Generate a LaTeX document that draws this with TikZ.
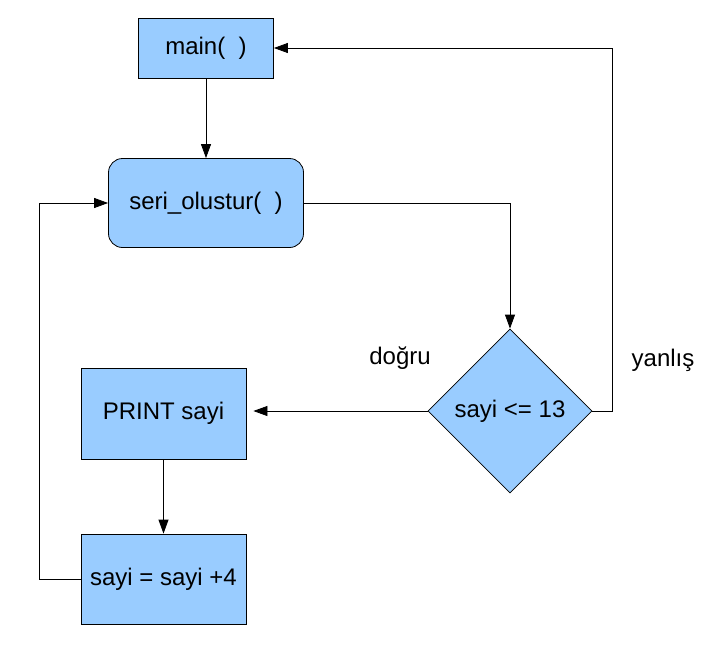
\documentclass[tikz,border=0pt]{standalone}
\usepackage{fontspec}
\setmainfont{Liberation Sans}
\usetikzlibrary{shapes.geometric,arrows.meta}
\definecolor{acikmavi}{HTML}{99CCFF}
\tikzset{
  kutu/.style={draw,fill=acikmavi,line width=0.8pt,inner sep=0pt},
  ok/.style={-{Triangle[length=14pt,width=10pt]},line width=0.8pt},
}
\begin{document}
\begin{tikzpicture}[x=1pt,y=-1pt,font=\fontsize{24}{28}\selectfont]
\useasboundingbox (0,0) rectangle (710,646);
% kutular
\node[kutu,minimum width=135pt,minimum height=60pt] (main) at (206,48) {main(\ \ )};
\node[kutu,rounded corners=14pt,minimum width=195pt,minimum height=89pt] (seri) at (206,203) {seri\_olustur(\ \ )};
\node[kutu,diamond,minimum width=164pt,minimum height=164pt] (kosul) at (510,411) {sayi <= 13};
\node[kutu,minimum width=165pt,minimum height=91pt] (yaz) at (163.5,413.5) {PRINT sayi};
\node[kutu,minimum width=165pt,minimum height=90pt] (artir) at (163.5,579) {sayi = sayi +4};
% etiketler
\node (dogru) at (400,358) {doğru};
\node (yanlis) at (663,360) {yanlış};
% baglantilar
\coordinate (sag) at (612,411);
\coordinate (sol) at (39,579);
\draw[ok] (main.south) -- (seri.north);
\draw[ok] (seri.east) -| (kosul.north);
\draw[ok] (kosul.east) -- (sag) |- (main.east);
\draw[ok,shorten >=7pt] (kosul.west) -- (kosul.west -| yaz.east);
\draw[ok] (yaz.south) -- (artir.north);
\draw[ok] (artir.west) -- (sol) |- (seri.west);
\end{tikzpicture}
\end{document}
